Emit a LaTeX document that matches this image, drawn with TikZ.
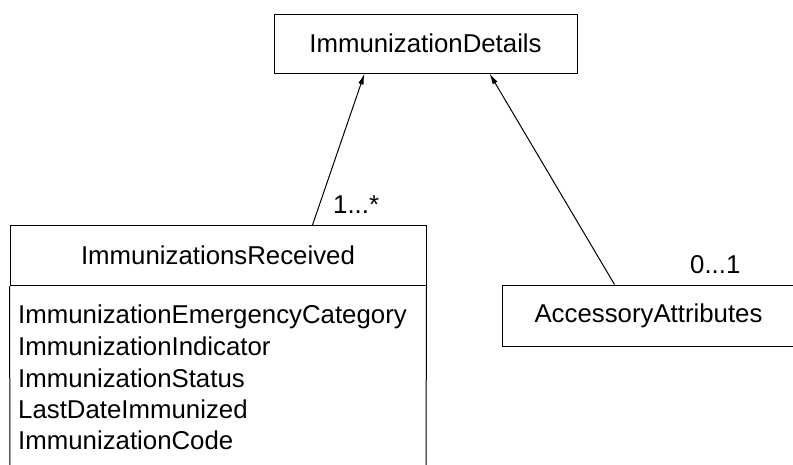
\documentclass[tikz,border=0pt]{standalone}
\usepackage{fontspec}
\setmainfont{Liberation Sans}
\usetikzlibrary{arrows.meta}
\begin{document}
\begin{tikzpicture}[x=1pt,y=-1pt,
  every node/.style={font=\fontsize{25.8}{30}\selectfont},
  classbox/.style={draw,line width=1pt,inner sep=0pt},
  attr/.style={inner sep=0pt,anchor=base west},
  assoc/.style={line width=1pt,-{Latex[length=11pt,width=5.5pt]}},
  mult/.style={inner sep=0pt,anchor=base west}]
\useasboundingbox (0,0) rectangle (793,464);
\node[classbox,minimum width=303pt,minimum height=59pt] (det) at (425.5,43.5) {ImmunizationDetails};
\node[classbox,minimum width=416pt,minimum height=60pt] (rec) at (218,255.5) {ImmunizationsReceived};
\node[classbox,minimum width=293pt,minimum height=61pt] (acc) at (648.5,315.5) {AccessoryAttributes};
\coordinate (recbl) at (10,470);
\coordinate (recbr) at (426,470);
\draw[line width=1pt] (rec.south west) -- (recbl);
\draw[line width=1pt] (rec.south east) -- (recbr);
\node[attr] (at1) at (18,323) {ImmunizationEmergencyCategory};
\node[attr] (at2) at (18,355) {ImmunizationIndicator};
\node[attr] (at3) at (18,387) {ImmunizationStatus};
\node[attr] (at4) at (18,418) {LastDateImmunized};
\node[attr] (at5) at (18,449) {ImmunizationCode};
\path (det.south west) ++(91,0) coordinate (d1);
\path (det.south west) ++(216,0) coordinate (d2);
\path (rec.north west) ++(303,0) coordinate (r1);
\path (acc.north west) ++(113,0) coordinate (a1);
\draw[assoc] (r1) -- (d1);
\draw[assoc] (a1) -- (d2);
\node[mult] (m1) at (333,213) {1...*};
\node[mult] (m2) at (690,273) {0...1};
\end{tikzpicture}
\end{document}
